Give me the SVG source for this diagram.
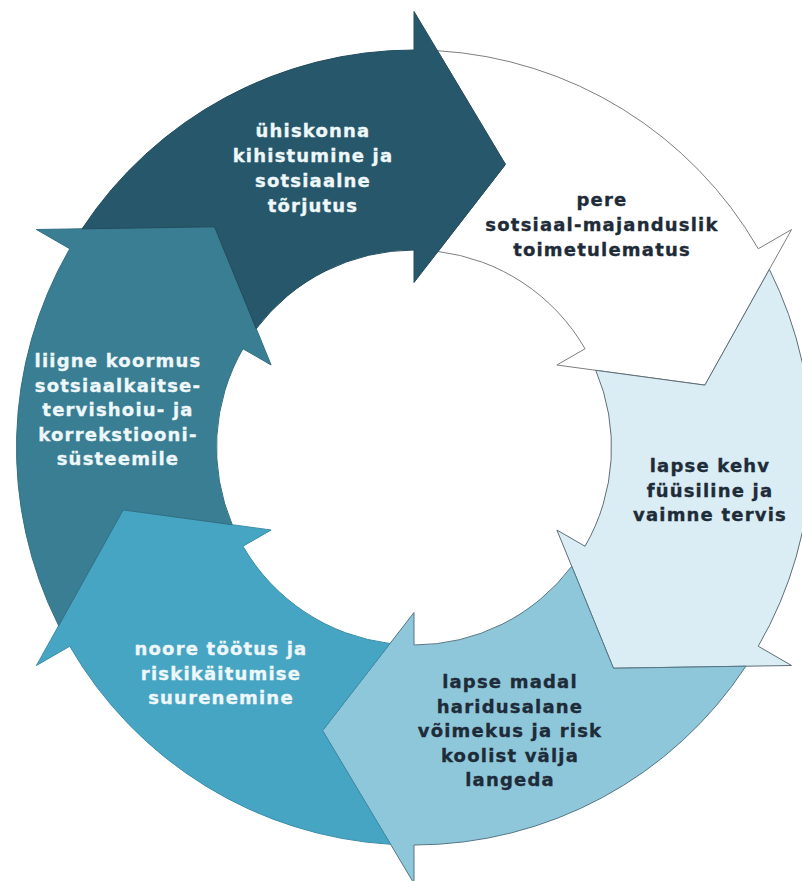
<svg xmlns="http://www.w3.org/2000/svg" width="802" height="881" viewBox="0 0 802 881">
<style>
.seg{stroke-width:1;stroke-linejoin:miter}
.t{font-family:"DejaVu Sans",Verdana,"Liberation Sans",sans-serif;font-weight:bold;font-size:18px;letter-spacing:1.2px;text-anchor:middle;stroke-width:0.35px}
.lt{fill:#EEF7FA;stroke:#EEF7FA}
.dt{fill:#1E2B38;stroke:#1E2B38}
</style>
<rect width="802" height="881" fill="#ffffff"/>
<g id="connectors"/>
<g id="node-pere">
<path class="seg" fill="#FFFFFF" stroke="#7E7E7E" d="M437.44,50.69 A397.5,397.5 0 0 1 758.24,248.75 L791.59,229.5 L704.89,385.14 L556.89,365 L585.04,348.75 A197.5,197.5 0 0 0 438.03,251.47 L505.44,164.4 Z"/>
<text class="t dt" x="602" y="206">pere</text>
<text class="t dt" x="602" y="231">sotsiaal-majanduslik</text>
<text class="t dt" x="602" y="256">toimetulematus</text>
</g>
<g id="node-tervis">
<path class="seg" fill="#DAEDF4" stroke="#5E6E76" d="M769.37,269.4 A397.5,397.5 0 0 1 758.24,646.25 L791.59,665.5 L613.45,668.24 L556.89,530 L585.04,546.25 A197.5,197.5 0 0 0 595.78,370.3 L704.89,385.14 Z"/>
<text class="t dt" x="710" y="472">lapse kehv</text>
<text class="t dt" x="710" y="497">füüsiline ja</text>
<text class="t dt" x="710" y="521">vaimne tervis</text>
</g>
<g id="node-haridus">
<path class="seg" fill="#8FC7DA" stroke="#557785" d="M745.92,666.2 A397.5,397.5 0 0 1 414,845 L414,883.5 L322.56,730.6 L414,612.5 L414,645 A197.5,197.5 0 0 0 571.75,566.33 L613.45,668.24 Z"/>
<text class="t dt" x="510" y="688">lapse madal</text>
<text class="t dt" x="510" y="712.5">haridusalane</text>
<text class="t dt" x="510" y="737">võimekus ja risk</text>
<text class="t dt" x="510" y="761.5">koolist välja</text>
<text class="t dt" x="510" y="786">langeda</text>
</g>
<g id="node-tootus">
<path class="seg" fill="#47A5C4" stroke="#3A8EAB" d="M390.56,844.31 A397.5,397.5 0 0 1 69.76,646.25 L36.41,665.5 L123.11,509.86 L271.11,530 L242.96,546.25 A197.5,197.5 0 0 0 389.97,643.53 L322.56,730.6 Z"/>
<text class="t lt" x="221" y="655">noore töötus ja</text>
<text class="t lt" x="221" y="679.5">riskikäitumise</text>
<text class="t lt" x="221" y="704">suurenemine</text>
</g>
<g id="node-koormus">
<path class="seg" fill="#397E93" stroke="#316F83" d="M58.63,625.6 A397.5,397.5 0 0 1 69.76,248.75 L36.41,229.5 L214.55,226.76 L271.11,365 L242.96,348.75 A197.5,197.5 0 0 0 232.22,524.7 L123.11,509.86 Z"/>
<text class="t lt" x="118" y="367">liigne koormus</text>
<text class="t lt" x="118" y="391.5">sotsiaalkaitse-</text>
<text class="t lt" x="118" y="416">tervishoiu- ja</text>
<text class="t lt" x="118" y="440.5">korrekstiooni-</text>
<text class="t lt" x="118" y="465">süsteemile</text>
</g>
<g id="node-kihistumine">
<path class="seg" fill="#27576A" stroke="#224D5E" d="M82.08,228.8 A397.5,397.5 0 0 1 414,50 L414,11.5 L505.44,164.4 L414,282.5 L414,250 A197.5,197.5 0 0 0 256.25,328.67 L214.55,226.76 Z"/>
<text class="t lt" x="313" y="137">ühiskonna</text>
<text class="t lt" x="313" y="162">kihistumine ja</text>
<text class="t lt" x="313" y="187">sotsiaalne</text>
<text class="t lt" x="313" y="212">tõrjutus</text>
</g>
</svg>
